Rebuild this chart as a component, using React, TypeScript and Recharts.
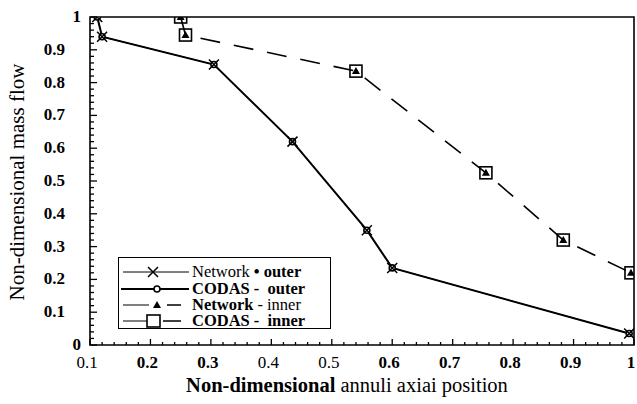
import React from "react";
import { LineChart, Line, XAxis, YAxis, ReferenceArea, Legend } from "recharts";

// outer annulus: network and CODAS coincide
const outerX = [0.112, 0.12, 0.305, 0.435, 0.558, 0.6, 0.992];
const networkOuter = [1.0, 0.94, 0.855, 0.62, 0.35, 0.235, 0.035];
const codasOuter = [1.0, 0.94, 0.855, 0.62, 0.35, 0.235, 0.035];

// inner annulus
const innerX = [0.25, 0.258, 0.54, 0.755, 0.883, 0.995];
const networkInner = [1.0, 0.945, 0.835, 0.525, 0.32, 0.22];
const codasInner = [1.0, 0.945, 0.835, 0.525, 0.32, 0.22];

const xMajor = [0.1, 0.2, 0.3, 0.4, 0.5, 0.6, 0.7, 0.8, 0.9, 1];
const xLabels = ["0.1", "0.2", "0.3", "0.4", "0.5", "0.6", "0.7", "0.8", "0.9", "1"];
const xLight = ["0.1", "0.4", "0.5"];
const yMajor = [0, 0.1, 0.2, 0.3, 0.4, 0.5, 0.6, 0.7, 0.8, 0.9, 1];
const yLabels = ["0", "0.1", "0.2", "0.3", "0.4", "0.5", "0.6", "0.7", "0.8", "0.9", "1"];

const FONT = "Liberation Serif";

const xTicks = Array.from({ length: 46 }, (_, i) => +(0.1 + i * 0.02).toFixed(2));
const yTicks = Array.from({ length: 51 }, (_, i) => +(i * 0.02).toFixed(2));

const toRows = (xs: number[], ys: number[]) => xs.map((x, i) => ({ x, y: ys[i] }));

const majorIndex = (list: number[], v: number) => list.findIndex((m) => Math.abs(m - v) < 1e-6);

// plot-area edges, used by the tick renderers (axes are drawn with tickSize 0)
const PLOT_BOTTOM = 345;
const PLOT_LEFT = 90;

const XTick = (props: any) => {
  const { x, payload } = props;
  const y = PLOT_BOTTOM;
  const idx = majorIndex(xMajor, payload.value);
  const len = idx >= 0 ? 6 : 3;
  return (
    <g>
      <line x1={x} x2={x} y1={y} y2={y - len} stroke="#000" strokeWidth={1.3} />
      {idx >= 0 && (
        <text
          x={x - 3}
          y={y + 23}
          textAnchor="middle"
          fontFamily={FONT}
          fontSize={17}
          fontWeight={xLight.includes(xLabels[idx]) ? "normal" : "bold"}
          fill="#000"
        >
          {xLabels[idx]}
        </text>
      )}
    </g>
  );
};

const YTick = (props: any) => {
  const { y, payload } = props;
  const x = PLOT_LEFT;
  const idx = majorIndex(yMajor, payload.value);
  const len = idx >= 0 ? 7 : 4;
  const label = idx >= 0 ? yLabels[idx] : null;
  const integer = label === "0" || label === "1";
  return (
    <g>
      <line x1={x} x2={x + len} y1={y} y2={y} stroke="#000" strokeWidth={1.3} />
      {label && (
        <text
          x={integer ? x - 9 : x - 25}
          y={y + 5}
          textAnchor="end"
          fontFamily={FONT}
          fontSize={17}
          fontWeight="bold"
          fill="#000"
        >
          {label}
        </text>
      )}
    </g>
  );
};

const CrossDot = (props: any) => {
  const { cx, cy } = props;
  if (cx == null || cy == null) return null;
  const s = 5;
  return (
    <path
      d={`M${cx - s},${cy - s}L${cx + s},${cy + s}M${cx - s},${cy + s}L${cx + s},${cy - s}`}
      stroke="#000"
      strokeWidth={1.5}
      fill="none"
    />
  );
};

const CircleDot = (props: any) => {
  const { cx, cy } = props;
  if (cx == null || cy == null) return null;
  return <circle cx={cx} cy={cy} r={3} fill="#fff" stroke="#000" strokeWidth={1.6} />;
};

const TriangleDot = (props: any) => {
  const { cx, cy } = props;
  if (cx == null || cy == null) return null;
  return <path d={`M${cx},${cy - 4}L${cx + 4},${cy + 3}L${cx - 4},${cy + 3}Z`} fill="#000" />;
};

const SquareDot = (props: any) => {
  const { cx, cy } = props;
  if (cx == null || cy == null) return null;
  return <rect x={cx - 6} y={cy - 6} width={12} height={12} fill="none" stroke="#000" strokeWidth={1.6} />;
};

const XTitle = () => (
  <text x={347} y={392} textAnchor="middle" fontFamily={FONT} fontSize={20.5} fill="#000">
    <tspan fontWeight="bold">Non-dimensional</tspan>
    <tspan> annuli axiai position</tspan>
  </text>
);

const YTitle = () => (
  <text x={24} y={182} transform="rotate(-90 24 182)" textAnchor="middle" fontFamily={FONT} fontSize={21} fill="#000">
    Non-dimensional mass flow
  </text>
);

const LegendIcon = ({ kind }: { kind: string }) => (
  <svg width={70} height={16} style={{ display: "block", flex: "none" }}>
    {kind === "netOuter" && (
      <g>
        <line x1={2} x2={68} y1={8} y2={8} stroke="#000" strokeWidth={1} />
        <CrossDot cx={32} cy={8} />
      </g>
    )}
    {kind === "codasOuter" && (
      <g>
        <line x1={0} x2={68} y1={8} y2={8} stroke="#000" strokeWidth={2} />
        <CircleDot cx={36} cy={8} />
      </g>
    )}
    {kind === "netInner" && (
      <g>
        <line x1={2} x2={28} y1={8} y2={8} stroke="#000" strokeWidth={1} />
        <TriangleDot cx={36} cy={8} />
        <line x1={46} x2={60} y1={8} y2={8} stroke="#000" strokeWidth={1.5} />
      </g>
    )}
    {kind === "codasInner" && (
      <g>
        <line x1={2} x2={26} y1={8} y2={8} stroke="#000" strokeWidth={1} />
        <rect x={26} y={2} width={13} height={12} fill="none" stroke="#000" strokeWidth={1.6} />
        <line x1={42} x2={60} y1={8} y2={8} stroke="#000" strokeWidth={1.5} />
      </g>
    )}
  </svg>
);

const legendRows = [
  { kind: "netOuter", a: "Network", aBold: false, b: "\u2022 outer", bBold: true },
  { kind: "codasOuter", a: "CODAS", aBold: true, b: "-  outer", bBold: true },
  { kind: "netInner", a: "Network", aBold: true, b: "- inner", bBold: false },
  { kind: "codasInner", a: "CODAS", aBold: true, b: "-  inner", bBold: true },
];

const LegendBox = () => (
  <div style={{ fontFamily: FONT, fontSize: 16.5, color: "#000", lineHeight: "16px", padding: "6px 0 0 2px" }}>
    {legendRows.map((r) => (
      <div key={r.kind} style={{ display: "flex", alignItems: "center", height: 16.4, whiteSpace: "pre" }}>
        <LegendIcon kind={r.kind} />
        <span style={{ fontWeight: r.aBold ? "bold" : "normal", marginLeft: 1 }}>{r.a}</span>
        <span style={{ fontWeight: r.bBold ? "bold" : "normal", marginLeft: 4 }}>{r.b}</span>
      </div>
    ))}
  </div>
);

export default function App() {
  return (
    <div style={{ position: "absolute", left: 0, top: 0, width: 637, height: 404, background: "#fff" }}>
      <LineChart width={637} height={404} margin={{ top: 17, right: 3, bottom: 19, left: 30 }}>
        <XAxis
          type="number"
          dataKey="x"
          domain={[0.1, 1]}
          ticks={xTicks}
          interval={0}
          tick={(p: any) => <XTick {...p} />}
          tickLine={false}
          tickSize={0}
          tickMargin={0}
          axisLine={false}
          height={40}
          allowDataOverflow
        />
        <YAxis
          type="number"
          dataKey="y"
          domain={[0, 1]}
          ticks={yTicks}
          interval={0}
          tick={(p: any) => <YTick {...p} />}
          tickLine={false}
          tickSize={0}
          tickMargin={0}
          axisLine={false}
          width={60}
          allowDataOverflow
        />
        <ReferenceArea x1={0.1} x2={1} y1={0} y2={1} fill="none" stroke="#000" strokeWidth={1.6} />
        <Line
          data={toRows(outerX, codasOuter)}
          dataKey="y"
          stroke="#000"
          strokeWidth={2}
          dot={<CircleDot />}
          activeDot={false}
          isAnimationActive={false}
        />
        <Line
          data={toRows(outerX, networkOuter)}
          dataKey="y"
          stroke="#000"
          strokeWidth={1}
          dot={<CrossDot />}
          activeDot={false}
          isAnimationActive={false}
        />
        <Line
          data={toRows(innerX, networkInner)}
          dataKey="y"
          stroke="#000"
          strokeWidth={1.6}
          strokeDasharray="20 14"
          dot={<TriangleDot />}
          activeDot={false}
          isAnimationActive={false}
        />
        <Line
          data={toRows(innerX, codasInner)}
          dataKey="y"
          stroke="none"
          dot={<SquareDot />}
          activeDot={false}
          isAnimationActive={false}
        />
        <Legend
          layout="vertical"
          align="center"
          verticalAlign="middle"
          content={() => <LegendBox />}
          wrapperStyle={{
            left: 118,
            top: 257,
            width: 213,
            height: 72,
            border: "1.5px solid #000",
            background: "#fff",
            boxSizing: "border-box",
          }}
        />
      </LineChart>
      <svg width={637} height={404} style={{ position: "absolute", left: 0, top: 0, pointerEvents: "none" }}>
        <XTitle />
        <YTitle />
      </svg>
    </div>
  );
}
